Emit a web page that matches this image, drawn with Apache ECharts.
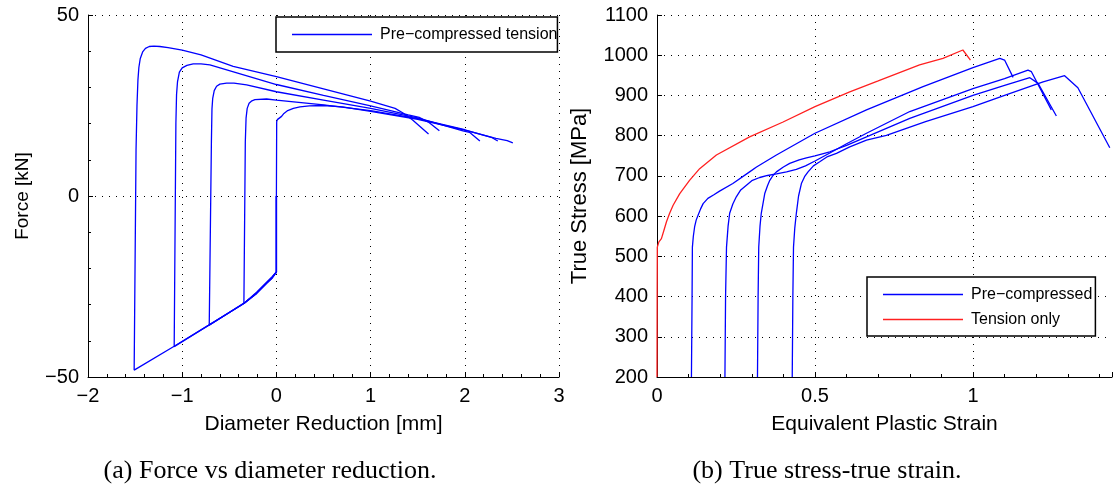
<!DOCTYPE html>
<html>
<head>
<meta charset="utf-8">
<script src="https://cdn.jsdelivr.net/npm/echarts@6/dist/echarts.min.js"></script>
<style>
html,body{margin:0;padding:0;background:#fff;}
#chart{width:1114px;height:490px;}
</style>
</head>
<body>
<div id="chart"></div>
<script>
// ---------- Left panel: Force vs diameter reduction ----------
const leftXTicks = [-2, -1, 0, 1, 2, 3];
const leftYTicks = [-50, 0, 50];
const leftSeriesName = 'Pre\u2212compressed tension';

const curveA = [[0,0],[0,-21],[-0.05,-22.8],[-0.104,-24.1],[-0.21,-26.9],[-0.345,-29.7],[-0.713,-35.6],[-1.085,-41.5],[-1.51,-48.1],
  [-1.49,12.7],[-1.48,25],[-1.47,32],[-1.46,35.5],[-1.445,38],[-1.42,39.8],[-1.39,40.8],[-1.35,41.3],[-1.3,41.4],[-1.237,41.3],[-1.15,41.0],[-1.0,40.3],[-0.8,39.0],[-0.459,35.8],[0,33.0],[0.5,29.6],[1.0,26.2],[1.26,24.2],[1.34,23.0],[1.446,21.0],[1.615,17.1]];
const curveB = [[0,0],[0,-21],[-0.05,-22.8],[-0.104,-24.1],[-0.21,-26.9],[-0.345,-29.7],[-0.713,-35.6],[-1.085,-41.6],
  [-1.067,20],[-1.06,28],[-1.05,31.5],[-1.03,34.2],[-1.0,35.4],[-0.95,36.1],[-0.883,36.5],[-0.8,36.5],[-0.706,36.2],[0,30.8],[0.5,27.8],[1.0,24.9],[1.4,22.4],[1.516,21.7],[1.62,20.3],[1.73,18.0]];
const curveC = [[0,0],[0,-21],[-0.05,-22.6],[-0.104,-24.0],[-0.21,-26.8],[-0.345,-29.6],[-0.713,-35.7],
  [-0.69,15],[-0.684,24],[-0.676,27],[-0.66,29.1],[-0.635,30.3],[-0.6,30.9],[-0.529,31.2],[-0.45,31.2],[-0.316,30.7],[0,28.8],[0.5,26.5],[1.0,24.2],[1.5,21.6],[1.98,18.0],[2.05,17.6],[2.16,15.2]];
const curveD = [[0,0],[0,-21],[-0.05,-22.4],[-0.104,-23.8],[-0.21,-26.6],[-0.345,-29.7],
  [-0.33,15],[-0.322,21.5],[-0.31,24.2],[-0.29,25.6],[-0.26,26.3],[-0.228,26.6],[-0.104,26.8],[0,26.5],[0.5,25.2],[1.0,23.6],[1.5,21.4],[2.0,18.3],[2.29,16.1],[2.35,15.2]];
const curveE = [[0,0],[0.003,20.5],[0.01,21.1],[0.03,21.4],[0.055,22.0],[0.08,22.8],[0.12,23.6],[0.18,24.2],[0.25,24.6],[0.35,24.9],[0.5,25.0],[0.7,24.6],[1.0,23.4],[1.5,21.2],[2.0,18.2],[2.33,15.9],[2.45,15.3],[2.51,14.7]];
const leftCurves = [curveA, curveB, curveC, curveD, curveE];

// ---------- Right panel: True stress vs equivalent plastic strain ----------
const rightXTicks = [0, 0.5, 1];
const rightYTicks = [200, 300, 400, 500, 600, 700, 800, 900, 1000, 1100];
const preName = 'Pre\u2212compressed';
const tensionName = 'Tension only';

const tensionOnly = [[0,200],[0.0005,400],[0.001,523],[0.006,536],[0.014,544],[0.022,565],[0.03,586],[0.04,607],[0.051,627],[0.072,656],[0.103,689],[0.135,718],[0.188,752],[0.293,797],[0.399,834],[0.5,872],[0.61,909],[0.7,936],[0.831,976],[0.905,992],[0.968,1013],[0.992,988]];
const pre1 = [[0.109,200],[0.111,400],[0.112,523],[0.115,550],[0.119,573],[0.124,590],[0.13,602],[0.138,618],[0.146,631],[0.161,644],[0.18,653],[0.198,662],[0.24,681],[0.293,710],[0.315,722],[0.378,752],[0.5,806],[0.663,864],[0.842,922],[1.0,969],[1.085,992],[1.1,988],[1.127,945]];
const pre2 = [[0.215,200],[0.217,400],[0.22,523],[0.225,575],[0.23,607],[0.24,630],[0.251,648],[0.265,665],[0.283,677],[0.3,688],[0.325,696],[0.35,701],[0.378,705],[0.41,710],[0.441,716],[0.47,725],[0.5,737],[0.547,757],[0.6,780],[0.663,806],[0.8,860],[1.0,917],[1.1,942],[1.174,963],[1.185,959],[1.248,864]];
const pre3 = [[0.318,200],[0.32,400],[0.322,523],[0.326,575],[0.33,607],[0.341,656],[0.35,676],[0.357,689],[0.367,701],[0.378,710],[0.4,722],[0.42,731],[0.45,740],[0.473,745],[0.5,750],[0.547,760],[0.6,776],[0.663,797],[0.8,843],[1.0,900],[1.1,925],[1.18,944],[1.206,930],[1.264,849]];
const pre4 = [[0.428,200],[0.43,400],[0.432,523],[0.436,570],[0.441,607],[0.448,650],[0.457,681],[0.467,698],[0.478,710],[0.495,725],[0.515,735],[0.54,748],[0.568,756],[0.61,772],[0.663,789],[0.726,801],[0.85,835],[1.0,872],[1.1,900],[1.222,934],[1.29,949],[1.332,919],[1.433,770]];
const preCurves = [pre1, pre2, pre3, pre4];

const captionA = '(a) Force vs diameter reduction.';
const captionB = '(b) True stress-true strain.';

const SANS = '"Liberation Sans", Arial, Helvetica, sans-serif';
const SERIF = '"Liberation Serif", "Times New Roman", serif';
const minus = v => String(v).replace('-', '\u2212');

function axisCommon(extra) {
  return Object.assign({
    type: 'value',
    axisLine: { show: true, onZero: false, lineStyle: { color: '#000', width: 1 } },
    axisTick: { show: true, inside: true, length: 5, lineStyle: { color: '#000', width: 1 } },
    minorTick: { show: true, splitNumber: 5, length: 3, lineStyle: { color: '#000', width: 1 } },
    splitLine: { show: true, lineStyle: { color: '#000', width: 1, type: [1, 6] } },
    axisLabel: { color: '#000', fontFamily: SANS, fontSize: 20, formatter: minus, margin: 9 },
    nameLocation: 'middle',
    nameTextStyle: { color: '#000', fontFamily: SANS, fontSize: 21 }
  }, extra);
}

const series = [];
leftCurves.forEach(c => series.push({
  type: 'line', name: leftSeriesName, xAxisIndex: 0, yAxisIndex: 0, data: c,
  symbol: 'none', showSymbol: false, lineStyle: { color: '#0000ff', width: 1.3 }, itemStyle: { color: '#0000ff' }
}));
preCurves.forEach(c => series.push({
  type: 'line', name: preName, xAxisIndex: 1, yAxisIndex: 1, data: c,
  symbol: 'none', showSymbol: false, lineStyle: { color: '#0000ff', width: 1.3 }, itemStyle: { color: '#0000ff' }
}));
series.push({
  type: 'line', name: tensionName, xAxisIndex: 1, yAxisIndex: 1, data: tensionOnly,
  symbol: 'none', showSymbol: false, lineStyle: { color: '#ff2020', width: 1.3 }, itemStyle: { color: '#ff2020' }
});

const legendCommon = {
  orient: 'vertical', icon: 'rect', itemWidth: 80, itemHeight: 1.5,
  backgroundColor: '#fff', borderColor: '#000', borderWidth: 1.5, borderRadius: 0,
  textStyle: { color: '#000', fontFamily: SANS, fontSize: 16, lineHeight: 17, padding: [0, 0, 0, 3] },
  selectedMode: false
};

const option = {
  animation: false,
  backgroundColor: '#fff',
  grid: [
    { left: 88, top: 15, width: 471, height: 362, containLabel: false },
    { left: 657, top: 15, width: 455, height: 362, containLabel: false }
  ],
  xAxis: [
    axisCommon({ gridIndex: 0, min: leftXTicks[0], max: leftXTicks[leftXTicks.length-1], interval: 1,
      name: 'Diameter Reduction [mm]', nameGap: 37 }),
    axisCommon({ gridIndex: 1, min: rightXTicks[0], max: 1.44, interval: 0.5,
      name: 'Equivalent Plastic Strain', nameGap: 37,
      axisLabel: { color: '#000', fontFamily: SANS, fontSize: 20, margin: 9, showMaxLabel: false,
        formatter: v => (rightXTicks.indexOf(v) >= 0 ? String(v) : '') },
      splitLine: { show: true, showMaxLine: false, lineStyle: { color: '#000', width: 1, type: [1, 6] } } })
  ],
  yAxis: [
    axisCommon({ gridIndex: 0, min: leftYTicks[0], max: leftYTicks[leftYTicks.length-1], interval: 50,
      name: 'Force [kN]', nameGap: 56, nameTextStyle: { color: '#000', fontFamily: SANS, fontSize: 19 } }),
    axisCommon({ gridIndex: 1, min: rightYTicks[0], max: rightYTicks[rightYTicks.length-1], interval: 100,
      name: 'True Stress [MPa]', nameGap: 66, minorTick: { show: false },
      nameTextStyle: { color: '#000', fontFamily: SANS, fontSize: 22 } })
  ],
  legend: [
    Object.assign({}, legendCommon, { data: [leftSeriesName], left: 276, top: 17, padding: [9, 0, 9, 16] }),
    Object.assign({}, legendCommon, { data: [preName, tensionName], left: 867, top: 277, itemGap: 8, padding: [9, 3, 8, 16] })
  ],
  graphic: [
    { type: 'text', x: 270, y: 471, style: { text: captionA, fontFamily: SERIF, fontSize: 26, fill: '#000', textAlign: 'center', textVerticalAlign: 'middle' } },
    { type: 'text', x: 827, y: 471, style: { text: captionB, fontFamily: SERIF, fontSize: 26, fill: '#000', textAlign: 'center', textVerticalAlign: 'middle' } }
  ],
  series: series
};

const chart = echarts.init(document.getElementById('chart'), null, { renderer: 'canvas' });
chart.setOption(option);
</script>
</body>
</html>
